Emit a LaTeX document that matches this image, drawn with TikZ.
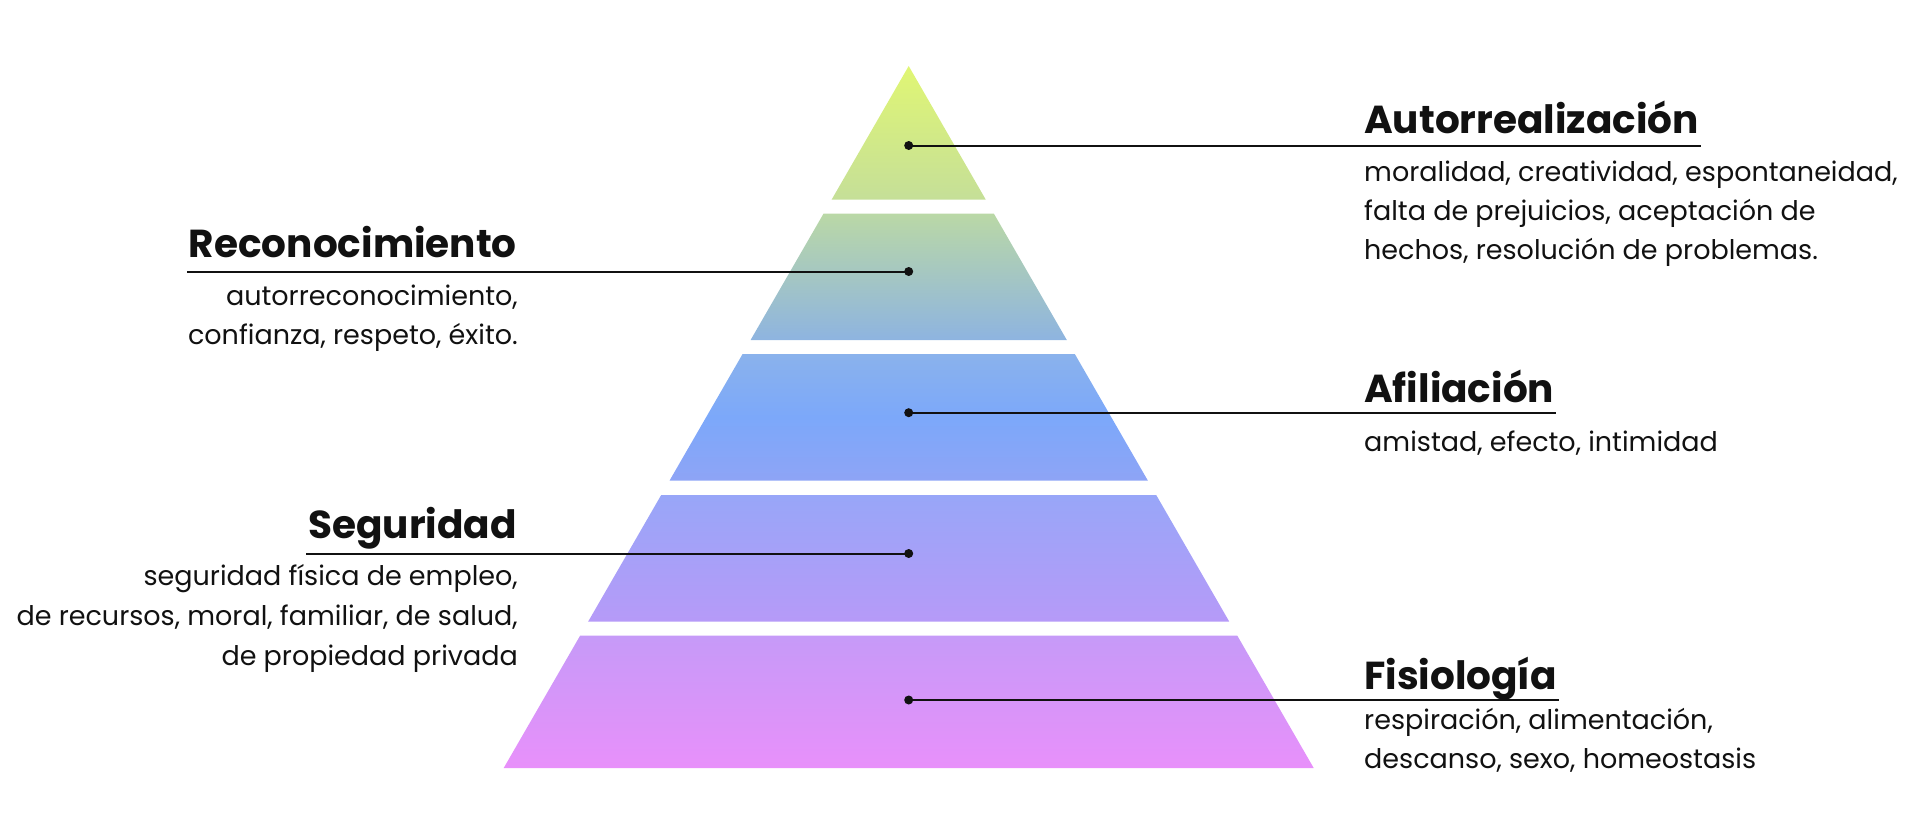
\documentclass[tikz,border=0pt]{standalone}
\usepackage{fontspec}
\setmainfont{Poppins}
\usetikzlibrary{positioning}

\definecolor{ink}{RGB}{17,17,17}
\definecolor{lvlAtop}{RGB}{224,246,116}
\definecolor{lvlAbot}{RGB}{197,223,152}
\definecolor{lvlBtop}{RGB}{186,216,166}
\definecolor{lvlBbot}{RGB}{142,180,224}
\definecolor{lvlCtop}{RGB}{138,178,236}
\definecolor{lvlCmid}{RGB}{124,168,250}
\definecolor{lvlCbot}{RGB}{142,164,246}
\definecolor{lvlDtop}{RGB}{152,166,248}
\definecolor{lvlDbot}{RGB}{182,154,248}
\definecolor{lvlEtop}{RGB}{198,154,248}
\definecolor{lvlEbot}{RGB}{232,144,250}

\tikzset{
  title/.style={font=\fontsize{39}{46}\selectfont\bfseries, text=ink, inner sep=0pt},
  body/.style={font=\fontsize{27}{39}\selectfont, text=ink, inner sep=0pt},
  lead/.style={line width=2pt, ink},
  pin/.style={circle, fill=ink, inner sep=0pt, minimum size=9pt},
}

\begin{document}
\begin{tikzpicture}[x=1pt, y=-1pt]
  \useasboundingbox (0,0) rectangle (1920,816);

  % pyramid levels
  \shade[top color=lvlAtop, bottom color=lvlAbot]
    (908.7,66) -- (985.7,199.5) -- (831.7,199.5) -- cycle;
  \shade[top color=lvlBtop, bottom color=lvlBbot]
    (823.6,213.5) -- (993.8,213.5) -- (1066.8,340) -- (750.6,340) -- cycle;
  \shade[shading=axis, top color=lvlCtop, bottom color=lvlCbot, middle color=lvlCmid]
    (742.6,354) -- (1074.8,354) -- (1147.8,480.5) -- (669.6,480.5) -- cycle;
  \shade[top color=lvlDtop, bottom color=lvlDbot]
    (661.2,495) -- (1156.2,495) -- (1229.2,621.5) -- (588.2,621.5) -- cycle;
  \shade[top color=lvlEtop, bottom color=lvlEbot]
    (580.2,635.5) -- (1237.2,635.5) -- (1313.7,768) -- (503.7,768) -- cycle;

  % level pins
  \node[pin] (p1) at (908.7,145.5) {};
  \node[pin] (p2) at (908.7,271.5) {};
  \node[pin] (p3) at (908.7,412.7) {};
  \node[pin] (p4) at (908.7,553.5) {};
  \node[pin] (p5) at (908.7,700) {};

  % right side labels (body nodes sit on their last baseline)
  \node[title, anchor=base west] (t1) at (1364,133) {Autorrealización};
  \node[body, anchor=base west, align=left] (b1) at (1364,259)
    {moralidad, creatividad, espontaneidad,\\falta de prejuicios, aceptación de\\hechos, resolución de problemas.};
  \node[title, anchor=base west] (t3) at (1364,402) {Afiliación};
  \node[body, anchor=base west] (b3) at (1364,451) {amistad, efecto, intimidad};
  \node[title, anchor=base west] (t5) at (1364,689) {Fisiología};
  \node[body, anchor=base west, align=left] (b5) at (1364,768)
    {respiración, alimentación,\\descanso, sexo, homeostasis};

  % left side labels
  \node[title, anchor=base east] (t2) at (517,257) {Reconocimiento};
  \node[body, anchor=base east, align=right] (b2) at (518,344.5)
    {autorreconocimiento,\\confianza, respeto, éxito.};
  \node[title, anchor=base east] (t4) at (517,538) {Seguridad};
  \node[body, anchor=base east, align=right, font=\fontsize{27}{40}\selectfont] (b4) at (518,665)
    {seguridad física de empleo,\\de recursos, moral, familiar, de salud,\\de propiedad privada};

  % leader lines
  \draw[lead] (p1.center) -- ([xshift=2pt]p1 -| t1.east);
  \draw[lead] (p2.center) -- ([xshift=-2pt]p2 -| t2.west);
  \draw[lead] (p3.center) -- ([xshift=2pt]p3 -| t3.east);
  \draw[lead] (p4.center) -- ([xshift=-2pt]p4 -| t4.west);
  \draw[lead] (p5.center) -- ([xshift=2pt]p5 -| t5.east);
\end{tikzpicture}
\end{document}
